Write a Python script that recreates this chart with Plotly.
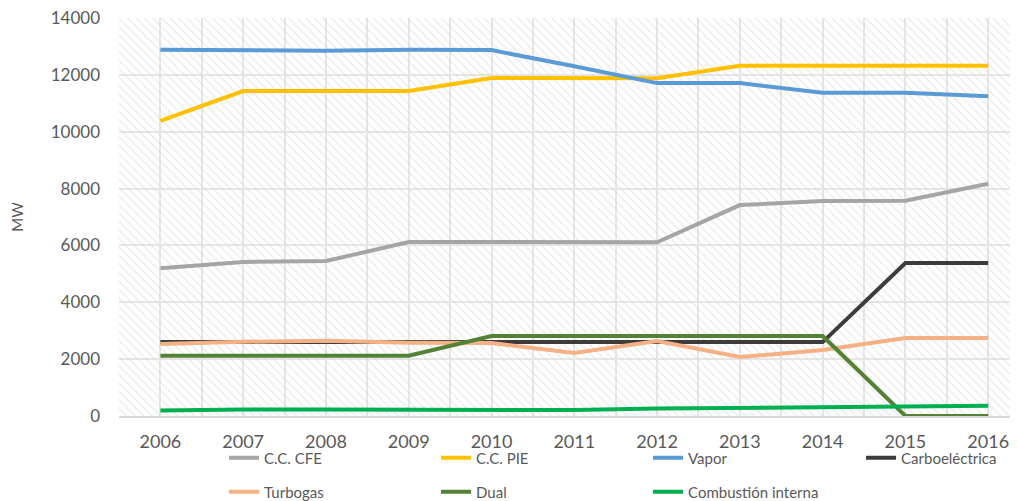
import plotly.graph_objects as go

# Capacidad instalada por tecnologia (MW), 2006-2016
years = ['2006', '2007', '2008', '2009', '2010', '2011', '2012', '2013', '2014', '2015', '2016']

cc_cfe = [5200, 5420, 5450, 6120, 6120, 6120, 6110, 7420, 7560, 7570, 8170]
cc_pie = [10380, 11430, 11430, 11430, 11890, 11890, 11880, 12320, 12320, 12320, 12320]
vapor = [12880, 12850, 12850, 12880, 12870, 12300, 11710, 11710, 11370, 11370, 11250]
carbo = [2600, 2600, 2600, 2600, 2600, 2600, 2600, 2600, 2600, 5380, 5380]
turbogas = [2530, 2610, 2650, 2580, 2570, 2215, 2640, 2075, 2320, 2745, 2745]
dual = [2120, 2120, 2120, 2120, 2810, 2810, 2810, 2810, 2810, 0, 0]
comb_interna = [190, 230, 230, 220, 220, 210, 260, 280, 320, 320, 360]

y_ticks = [0, 2000, 4000, 6000, 8000, 10000, 12000, 14000]

x_range = [-0.5, 10.36]
y_range = [0, 14000]

series = [
    ('C.C. CFE', cc_cfe, '#A5A5A5'),
    ('C.C. PIE', cc_pie, '#FFC000'),
    ('Vapor', vapor, '#5B9BD5'),
    ('Carboeléctrica', carbo, '#3C3C3C'),
    ('Turbogas', turbogas, '#F4B183'),
    ('Dual', dual, '#548235'),
    ('Combustión interna', comb_interna, '#00B050'),
]

# legend slots (container coords), 4 per row like the original
legend_pos = [(0.2139, 0.0872), (0.4238, 0.0872), (0.6337, 0.0872), (0.8446, 0.0872),
              (0.2139, 0.0183), (0.4238, 0.0183), (0.6337, 0.0183)]

xs = list(range(len(years)))

fig = go.Figure()

# hatched plot background
fig.add_trace(go.Scatter(
    x=x_range, y=[y_range[1], y_range[1]], mode='none', fill='tozeroy',
    fillcolor='rgba(0,0,0,0)',
    fillpattern=dict(shape='\\', fgcolor='#d4d4d4', bgcolor='rgba(0,0,0,0)',
                     size=6, solidity=0.2),
    showlegend=False, hoverinfo='skip'))

legends = {}
for i, (name, vals, color) in enumerate(series):
    leg = 'legend' if i == 0 else 'legend%d' % (i + 1)
    fig.add_trace(go.Scatter(
        x=xs, y=vals, name=name, mode='lines',
        line=dict(color=color, width=4), legend=leg))
    lx, ly = legend_pos[i]
    legends[leg] = dict(orientation='h', x=lx, xanchor='left', y=ly, yanchor='middle',
                        xref='container', yref='container',
                        font=dict(size=15), bgcolor='rgba(0,0,0,0)')

# gridlines every half category
grid_vals = [i * 0.5 for i in range(-1, 2 * len(years) + 1)]
grid_text = [years[int(v)] if v == int(v) and 0 <= v < len(years) else '' for v in grid_vals]

# the page body adds an 8px margin, so the figure is 8px smaller than the window
fig.update_layout(
    width=1010, height=493,
    margin=dict(l=111, r=0, t=10, b=85),
    paper_bgcolor='white', plot_bgcolor='white',
    font=dict(family='Lato', color='#595959'),
    **legends,
)

fig.update_xaxes(
    range=x_range, tickmode='array', tickvals=grid_vals, ticktext=grid_text,
    showgrid=True, gridcolor='#e6e6e6', gridwidth=2,
    showline=True, linecolor='#d9d9d9', linewidth=2,
    ticks='', ticklabelstandoff=8, tickfont=dict(size=18, color='#595959'),
    ticklabeloverflow='allow', zeroline=False, automargin=False)

fig.update_yaxes(
    range=y_range, tickmode='array', tickvals=y_ticks, tickformat='d',
    showgrid=True, gridcolor='#e6e6e6', gridwidth=2,
    ticks='', ticklabelstandoff=18, tickfont=dict(size=17, color='#595959'),
    ticklabeloverflow='allow',
    title=dict(text='MW', font=dict(size=15, color='#595959'), standoff=32),
    zeroline=False, automargin=False)

fig.write_html("out.html")
